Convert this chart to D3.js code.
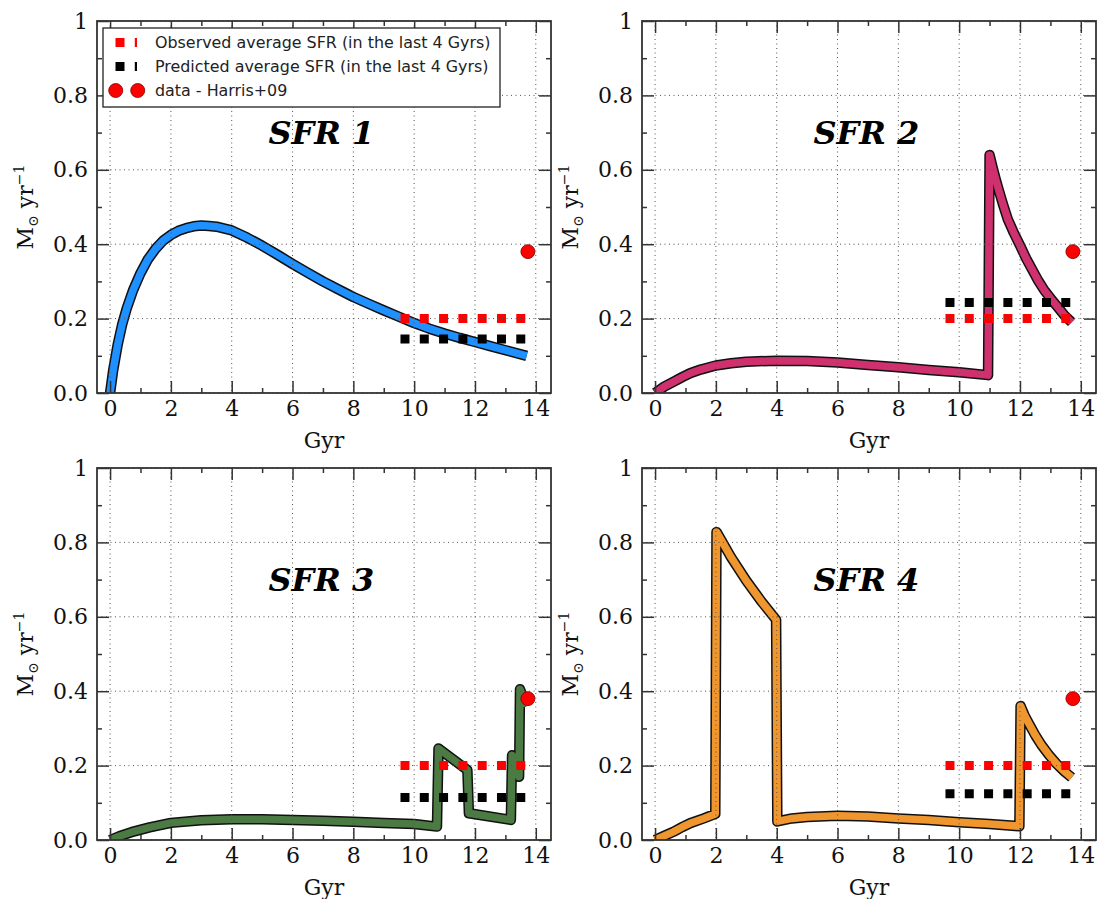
<!DOCTYPE html>
<html>
<head>
<meta charset="utf-8">
<script src="https://cdn.jsdelivr.net/npm/d3@7"></script>
<style>
  body { margin: 0; background: #fff; }
  svg { display: block; }
</style>
</head>
<body>
<div id="view"></div>
<script>
// star formation histories: [Gyr, Msun/yr]
var sfr1 = [[0,0],[0.1,0.06],[0.25,0.13],[0.4,0.185],[0.55,0.228],[0.75,0.275],[1,0.322],[1.25,0.36],[1.5,0.388],
  [1.75,0.41],[2,0.425],[2.25,0.436],[2.5,0.443],[2.75,0.448],[3,0.45],[3.25,0.449],[3.5,0.447],[4,0.437],[4.5,0.418],[5,0.396],[5.5,0.372],
  [6,0.347],[6.5,0.323],[7,0.3],[7.5,0.279],[8,0.258],[8.5,0.24],[9,0.222],[9.5,0.205],[10,0.188],
  [10.5,0.173],[11,0.16],[11.5,0.148],[12,0.137],[12.5,0.126],[13,0.115],[13.7,0.1]];
var sfr2 = [[0,0],[0.3,0.017],[0.6,0.03],[0.9,0.043],[1.15,0.053],[1.5,0.063],[2,0.074],[2.5,0.08],[3,0.084],[4,0.087],[5,0.086],[6,0.082],
  [7,0.075],[8,0.069],[9,0.062],[10,0.056],[10.95,0.048],[11,0.64],[11.1,0.606],[11.2,0.575],[11.3,0.546],[11.45,0.505],
  [11.6,0.467],[11.8,0.43],[12,0.397],[12.2,0.362],[12.4,0.332],[12.6,0.302],[12.8,0.276],[13.05,0.25],[13.25,0.23],
  [13.45,0.21],[13.7,0.19]];
var sfr3 = [[0,0],[0.3,0.01],[0.7,0.021],[1.3,0.034],[2,0.046],[3,0.053],[4,0.056],[5,0.056],[6,0.054],
  [7,0.052],[8,0.049],[9,0.046],[10,0.043],[10.75,0.036],[10.8,0.246],[11.75,0.188],[11.8,0.072],
  [13.18,0.054],[13.22,0.228],[13.45,0.17],[13.48,0.405],[13.7,0.36]];
var sfr4 = [[0,0],[0.3,0.011],[0.6,0.022],[0.9,0.035],[1.15,0.045],[1.6,0.058],[1.98,0.07],[2.02,0.828],[2.5,0.76],
  [3,0.697],[3.5,0.641],[3.98,0.592],[4.02,0.05],[4.5,0.058],[5,0.062],[6,0.065],[7,0.063],[8,0.058],
  [9,0.054],[10,0.048],[11,0.043],[11.98,0.037],[12.02,0.36],[12.15,0.335],[12.3,0.312],[12.5,0.282],
  [12.7,0.256],[12.95,0.229],[13.2,0.205],[13.45,0.185],[13.7,0.168]];

var titles = ["SFR 1", "SFR 2", "SFR 3", "SFR 4"];
var observedAvg = [0.2, 0.2, 0.2, 0.2];
var predictedAvg = [0.145, 0.243, 0.114, 0.124];
var avgWindow = [9.55, 13.7];
var harris = [13.74, 0.38];
var legendLabels = ["Observed average SFR (in the last 4 Gyrs)",
                    "Predicted average SFR (in the last 4 Gyrs)",
                    "data - Harris+09"];
var xMajor = [0, 2, 4, 6, 8, 10, 12, 14];
var xMinor = [1, 3, 5, 7, 9, 11, 13];
var yMajor = [0, 0.2, 0.4, 0.6, 0.8, 1];
var yMinor = [0.1, 0.3, 0.5, 0.7, 0.9];

var curves = [sfr1, sfr2, sfr3, sfr4];
var colors = ["#1e90ff", "#cf306e", "#4b7a43", "#f0962e"];

var width = 454, height = 372;
var origins = [[97, 21], [642, 21], [97, 468], [642, 468]];

var svg = d3.select("#view").append("svg")
    .attr("width", 1097)
    .attr("height", 899);

var x = d3.scaleLinear().domain([-0.43, 14.5]).range([0, width]);
var y = d3.scaleLinear().domain([0, 1]).range([height, 0]);

var line = d3.line()
    .x(function(d) { return x(d[0]); })
    .y(function(d) { return y(d[1]); });

var serif = "DejaVu Serif, serif";

svg.append("defs").append("clipPath")
    .attr("id", "plotclip")
    .append("rect")
    .attr("width", width)
    .attr("height", height);

curves.forEach(function(data, i) {
    var g = svg.append("g")
        .attr("transform", "translate(" + origins[i][0] + "," + origins[i][1] + ")");

    var inner = g.append("g").attr("clip-path", "url(#plotclip)");

    inner.append("path")
        .datum(data)
        .attr("fill", "none")
        .attr("stroke", "#111")
        .attr("stroke-width", 10.5)
        .attr("stroke-linejoin", "round")
        .attr("d", line);

    inner.append("path")
        .datum(data)
        .attr("fill", "none")
        .attr("stroke", colors[i])
        .attr("stroke-width", 7.5)
        .attr("stroke-linejoin", "round")
        .attr("d", line);

    // average SFR over the last 4 Gyr, as thick dotted lines
    [[observedAvg[i], "#ff0000"], [predictedAvg[i], "#000"]].forEach(function(a) {
        inner.append("line")
            .attr("x1", x(avgWindow[0]))
            .attr("x2", x(avgWindow[1]))
            .attr("y1", y(a[0]))
            .attr("y2", y(a[0]))
            .attr("stroke", a[1])
            .attr("stroke-width", 9)
            .attr("stroke-dasharray", "9 10.3");
    });

    inner.append("circle")
        .attr("cx", x(harris[0]))
        .attr("cy", y(harris[1]))
        .attr("r", 7)
        .attr("fill", "#ff0000")
        .attr("stroke", "#7a0000")
        .attr("stroke-width", 0.8);

    // grid sits above the data
    var grid = g.append("g")
        .attr("stroke", "#555")
        .attr("stroke-width", 1)
        .attr("stroke-dasharray", "1 3.5");
    grid.selectAll(".gx").data(xMajor).enter().append("line")
        .attr("x1", function(d) { return x(d); })
        .attr("x2", function(d) { return x(d); })
        .attr("y1", 0).attr("y2", height);
    grid.selectAll(".gy").data(yMajor).enter().append("line")
        .attr("y1", function(d) { return y(d); })
        .attr("y2", function(d) { return y(d); })
        .attr("x1", 0).attr("x2", width);

    // ticks on all four sides, pointing in
    var axB = g.append("g").attr("transform", "translate(0," + height + ")")
        .call(d3.axisBottom(x).tickValues(xMajor).tickSize(-12).tickPadding(7)
            .tickFormat(d3.format("d")));
    var axBm = g.append("g").attr("transform", "translate(0," + height + ")")
        .call(d3.axisBottom(x).tickValues(xMinor).tickSize(-5).tickFormat(""));
    var axT = g.append("g")
        .call(d3.axisTop(x).tickValues(xMajor).tickSize(-12).tickFormat(""));
    var axTm = g.append("g")
        .call(d3.axisTop(x).tickValues(xMinor).tickSize(-5).tickFormat(""));
    var axL = g.append("g")
        .call(d3.axisLeft(y).tickValues(yMajor).tickSize(-12).tickPadding(9)
            .tickFormat(function(d) { return d === 1 ? "1" : d.toFixed(1); }));
    var axLm = g.append("g")
        .call(d3.axisLeft(y).tickValues(yMinor).tickSize(-5).tickFormat(""));
    var axR = g.append("g").attr("transform", "translate(" + width + ",0)")
        .call(d3.axisRight(y).tickValues(yMajor).tickSize(-12).tickFormat(""));
    var axRm = g.append("g").attr("transform", "translate(" + width + ",0)")
        .call(d3.axisRight(y).tickValues(yMinor).tickSize(-5).tickFormat(""));

    [axB, axBm, axT, axTm, axL, axLm, axR, axRm].forEach(function(a) {
        a.select(".domain").remove();
        a.selectAll("line").attr("stroke", "#333").attr("stroke-width", 1.5);
        a.selectAll("text")
            .attr("font-family", serif)
            .attr("font-size", 22)
            .attr("fill", "#111");
    });

    g.append("rect")
        .attr("width", width)
        .attr("height", height)
        .attr("fill", "none")
        .attr("stroke", "#333")
        .attr("stroke-width", 1.8);

    g.append("text")
        .attr("x", width / 2)
        .attr("y", height + 55)
        .attr("text-anchor", "middle")
        .attr("font-family", serif)
        .attr("font-size", 22)
        .attr("fill", "#111")
        .text("Gyr");

    var yl = g.append("text")
        .attr("transform", "translate(-64," + (height / 2) + ") rotate(-90)")
        .attr("text-anchor", "middle")
        .attr("font-family", serif)
        .attr("font-size", 22)
        .attr("fill", "#111");
    yl.append("tspan").text("M");
    yl.append("tspan").attr("font-size", 14).attr("dy", 5).text("\u2299");
    yl.append("tspan").attr("dy", -5).text(" yr");
    yl.append("tspan").attr("font-size", 14).attr("dy", -9).text("\u22121");

    g.append("text")
        .attr("x", x(6.95))
        .attr("y", y(0.67))
        .attr("text-anchor", "middle")
        .attr("font-family", serif)
        .attr("font-size", 32)
        .attr("font-weight", "bold")
        .attr("font-style", "italic")
        .attr("fill", "#000")
        .text(titles[i]);

    if (i === 0) {
        var lg = g.append("g").attr("transform", "translate(6,7)");
        lg.append("rect")
            .attr("width", 397)
            .attr("height", 79)
            .attr("fill", "#fff")
            .attr("stroke", "#222")
            .attr("stroke-width", 1.3);
        var rows = [14.5, 38.5, 62.5];
        ["#ff0000", "#000"].forEach(function(c, k) {
            lg.append("line")
                .attr("x1", 12.5).attr("x2", 34)
                .attr("y1", rows[k]).attr("y2", rows[k])
                .attr("stroke", c)
                .attr("stroke-width", 9)
                .attr("stroke-dasharray", "9 10.3");
        });
        [12.7, 34.7].forEach(function(cx) {
            lg.append("circle")
                .attr("cx", cx).attr("cy", rows[2]).attr("r", 7)
                .attr("fill", "#ff0000")
                .attr("stroke", "#7a0000")
                .attr("stroke-width", 0.8);
        });
        lg.selectAll(".lt").data(legendLabels).enter().append("text")
            .attr("x", 52)
            .attr("y", function(d, k) { return rows[k] + 5.5; })
            .attr("font-family", "DejaVu Sans, sans-serif")
            .attr("font-size", 15.9)
            .attr("fill", "#222")
            .text(function(d) { return d; });
    }
});
</script>
</body>
</html>
